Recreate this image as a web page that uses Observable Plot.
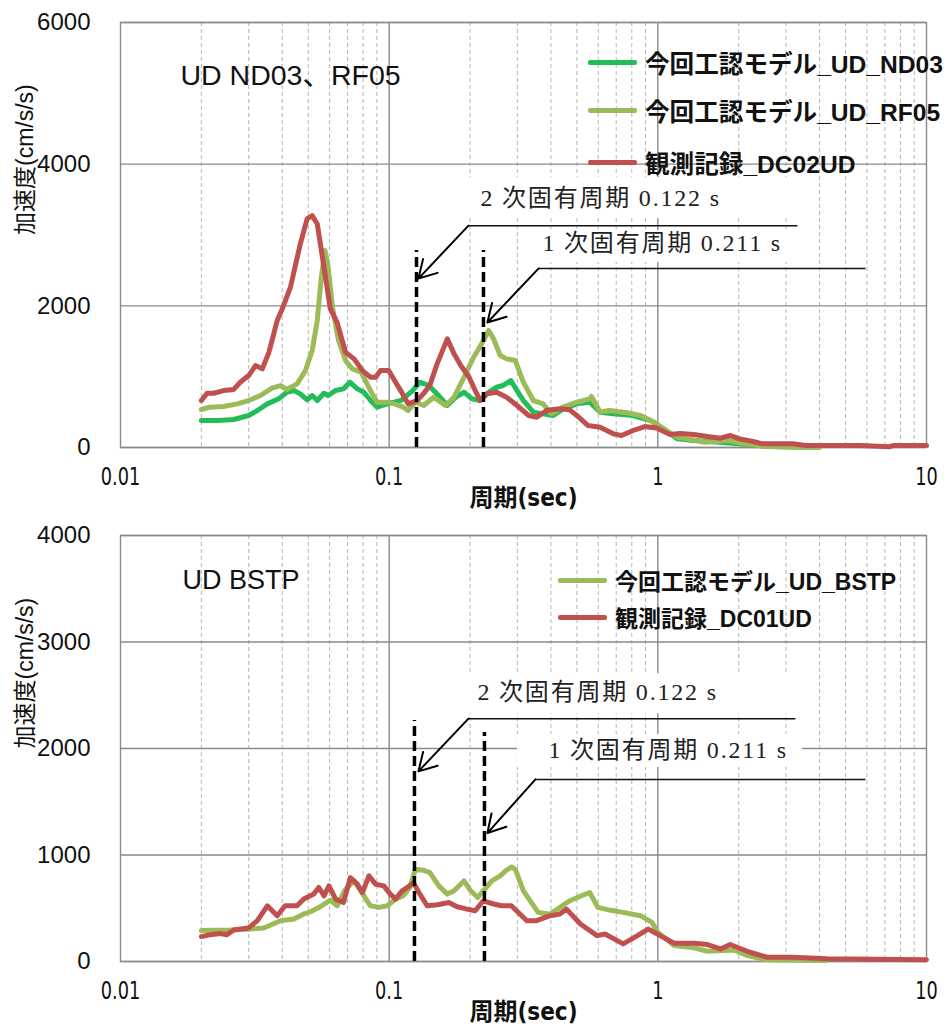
<!DOCTYPE html>
<html><head><meta charset="utf-8">
<script src="https://cdn.jsdelivr.net/npm/d3@7"></script>
<script src="https://cdn.jsdelivr.net/npm/@observablehq/plot@0.6"></script>
<style>
body{margin:0;background:#fff;}
#wrap{position:relative;width:944px;height:1025px;overflow:hidden;background:#fff;}
#wrap svg{display:block;}
.legend{position:absolute;left:0;top:0;font-family:"Liberation Sans","Noto Sans CJK JP",sans-serif;font-weight:bold;color:#111;}
.row{position:absolute;white-space:nowrap;display:flex;align-items:center;height:30px;}
.sw{display:inline-block;width:49px;height:5px;margin-right:8px;border-radius:2px;}
</style></head>
<body><div id="wrap"></div>
<script>
// ---------- axes / ticks ----------
const periodTicks = [0.01, 0.1, 1, 10];
const majorGrid = [0.1, 1];
const minorGrid = [0.02,0.03,0.04,0.05,0.06,0.07,0.08,0.09,0.2,0.3,0.4,0.5,0.6,0.7,0.8,0.9,2,3,4,5,6,7,8,9];
const yTicksTop = [0, 2000, 4000, 6000];
const yTicksBottom = [0, 1000, 2000, 3000, 4000];

// ---------- top chart series ----------
const nd03T = [0.02,0.0229,0.0264,0.03,0.0323,0.0352,0.0388,0.0416,0.0442,0.0467,0.0495,0.0517,0.054,0.0572,0.0593,0.0631,0.0676,0.0714,0.0762,0.0805,0.0864,0.0902,0.0983,0.1105,0.1223,0.13,0.1403,0.1508,0.1646,0.177,0.19,0.2035,0.2181,0.2345,0.2512,0.265,0.2836,0.2993,0.316,0.344,0.374,0.408,0.444,0.499,0.558,0.61,0.683,0.809,0.94,1.05,1.18,1.36,1.6,1.9,2.3,2.8,3.5,4.0];
const nd03V = [381,381,395,452,522,616,687,780,804,757,672,734,663,766,734,804,828,921,828,780,639,569,616,663,804,922,875,757,593,710,780,687,663,780,851,875,945,804,663,499,475,452,546,616,640,499,475,452,381,263,122,99,80,60,30,10,5,3];

const rf05T = [0.02,0.0215,0.0242,0.0272,0.03,0.0332,0.0366,0.0394,0.0416,0.0454,0.0488,0.0517,0.054,0.0559,0.0577,0.0593,0.0615,0.0648,0.0688,0.0729,0.0786,0.0852,0.0902,0.1003,0.1128,0.1176,0.1252,0.1344,0.1465,0.162,0.1744,0.19,0.2063,0.221,0.2345,0.2447,0.2591,0.2735,0.295,0.316,0.344,0.374,0.402,0.444,0.499,0.558,0.566,0.61,0.66,0.77,0.862,0.97,1.05,1.18,1.36,1.49,1.83,2.1,2.5,3.0,4.0];
const rf05V = [536,569,578,616,663,734,837,875,819,899,1086,1369,1792,2403,2780,2544,1980,1510,1228,1110,1063,804,639,639,569,522,639,593,710,593,710,992,1274,1463,1651,1534,1298,1251,1228,921,663,616,475,569,639,687,720,500,522,490,452,357,263,145,108,75,99,52,15,10,5];

const dc02T = [0.02,0.021,0.0222,0.0242,0.0264,0.0279,0.03,0.0318,0.0337,0.0357,0.0383,0.04,0.0429,0.0467,0.0495,0.0517,0.054,0.0572,0.0604,0.064,0.0688,0.074,0.0795,0.0852,0.0891,0.0927,0.0996,0.1057,0.1105,0.1176,0.1271,0.1342,0.1418,0.1508,0.1646,0.1744,0.1847,0.1984,0.2091,0.2181,0.2308,0.2512,0.2735,0.2993,0.33,0.354,0.385,0.432,0.47,0.499,0.55,0.61,0.683,0.733,0.809,0.895,0.99,1.11,1.21,1.36,1.53,1.71,1.86,2.02,2.26,2.46,3.17,3.56,4.25,5.66,7.3,7.5,10];
const dc02V = [663,766,766,804,820,921,1016,1157,1110,1345,1792,1957,2262,2874,3227,3274,3156,2544,1957,1768,1345,1251,1086,992,992,1086,1086,921,800,616,663,760,880,1181,1534,1322,1157,992,804,663,757,780,710,593,452,428,522,546,532,452,310,287,193,169,240,296,275,183,197,183,155,132,169,122,85,52,52,28,28,28,12,28,28];

// ---------- bottom chart series ----------
const bstpT = [0.02,0.0257,0.0305,0.0341,0.0394,0.0442,0.0481,0.0509,0.0554,0.0604,0.064,0.0688,0.074,0.0783,0.0852,0.0916,0.0984,0.1057,0.1128,0.1194,0.1252,0.1344,0.1418,0.1531,0.1646,0.1744,0.19,0.201,0.2136,0.224,0.241,0.2591,0.2706,0.2853,0.295,0.316,0.3585,0.3976,0.432,0.47,0.52,0.558,0.598,0.66,0.743,0.862,0.95,1.0,1.15,1.36,1.53,1.76,1.92,2.15,2.55,4.25];
const bstpV = [290,296,305,315,383,399,445,467,514,576,523,679,757,664,523,508,523,586,617,695,866,857,835,710,633,664,757,664,601,664,757,804,850,888,866,664,461,445,508,570,617,648,508,483,461,430,367,274,150,128,96,103,109,56,16,9];

const dc01T = [0.02,0.0216,0.0235,0.0249,0.0264,0.03,0.0323,0.0352,0.0383,0.041,0.0454,0.0481,0.0524,0.0547,0.0572,0.0597,0.0632,0.0676,0.0717,0.0762,0.0795,0.0841,0.089,0.0955,0.101,0.1057,0.1117,0.1169,0.1231,0.129,0.1386,0.1513,0.1668,0.179,0.195,0.2091,0.224,0.2447,0.262,0.285,0.3255,0.354,0.3976,0.432,0.457,0.515,0.594,0.636,0.743,0.84,0.92,1.02,1.15,1.36,1.53,1.71,1.86,1.97,2.2,2.55,3.17,4.25,10];
const dc01V = [234,252,262,252,296,315,383,523,430,523,523,586,633,695,617,710,586,554,788,726,648,804,726,710,633,586,664,695,741,648,523,533,554,514,492,477,570,540,523,523,383,383,430,445,492,352,243,258,165,243,305,243,171,171,159,118,159,134,87,40,40,25,16];

// ---------- labels ----------
const xLabel = "周期(sec)";
const yLabel = "加速度(cm/s/s)";
const topTitle = "UD ND03、RF05";
const bottomTitle = "UD BSTP";
const topNames = ["今回工認モデル_UD_ND03", "今回工認モデル_UD_RF05", "観測記録_DC02UD"];
const bottomNames = ["今回工認モデル_UD_BSTP", "観測記録_DC01UD"];
const noteTexts = ["2 次固有周期 0.122 s", "1 次固有周期 0.211 s"];

// ---------- annotations (data units: period, acceleration) ----------
const topModes = [{T:0.1264, top:2780}, {T:0.2244, top:2780}];
const topLeaders = [{x1:0.1973, x2:3.307, y:3132}, {x1:0.3594, x2:5.925, y:2526}];
const topArrows = [{x1:0.1973, y1:3132, x2:0.1285, y2:2385}, {x1:0.3594, y1:2526, x2:0.2321, y2:1764}];
const topNotes = [{T:0.2187, y:3513, text:noteTexts[0]}, {T:0.372, y:2878, text:noteTexts[1]}];
const topBoxes = [{x1:0.194, x2:3.395, y1:3231, y2:3810}, {x1:0.3356, x2:3.542, y1:2610, y2:3062}];

const botModes = [{T:0.1242, top:2263}, {T:0.2263, top:2150}];
const botLeaders = [{x1:0.1973, x2:3.251, y:2280}, {x1:0.3503, x2:5.925, y:1710}];
const botArrows = [{x1:0.1973, y1:2280, x2:0.1285, y2:1785}, {x1:0.3503, y1:1710, x2:0.2321, y2:1206}];
const botNotes = [{T:0.2131, y:2523, text:noteTexts[0]}, {T:0.3916, y:1981, text:noteTexts[1]}];
const botBoxes = [{x1:0.194, x2:3.395, y1:2327, y2:2701}, {x1:0.3003, x2:3.453, y1:1822, y2:2131}];

// ---------- colours ----------
const cGreen = "#22bd58", cOlive = "#9bbb59", cRed = "#c0504d";

const zip = (T, V) => T.map((t, i) => ({T: t, v: V[i]}));
const sansFont = "Liberation Sans, Arial, Noto Sans CJK JP, sans-serif";
const narrowFont = "Liberation Sans Narrow, DejaVu Sans Condensed, Liberation Sans, Noto Sans CJK JP, sans-serif";
const serifFont = "Liberation Serif, DejaVu Serif, Noto Sans CJK JP, serif";

function chart(o) {
  const svg = Plot.plot({
    width: 944, height: o.height,
    marginTop: o.mt, marginBottom: o.mb, marginLeft: 120, marginRight: 18,
    style: {background: "white", overflow: "visible"},
    x: {type: "log", domain: [0.01, 10]},
    y: {domain: o.yDomain},
    marks: [
      Plot.ruleX(minorGrid, {stroke: "#b5b5b5", strokeWidth: 1, strokeDasharray: "4,3"}),
      Plot.ruleX(majorGrid, {stroke: "#8a8a8a", strokeWidth: 1.4}),
      Plot.ruleY(o.yTicks, {stroke: "#8a8a8a", strokeWidth: 1.4}),
      Plot.frame({stroke: "#8a8a8a", strokeWidth: 1.4}),
      Plot.rect(o.boxes, {x1: "x1", x2: "x2", y1: "y1", y2: "y2", fill: "white"}),
      ...o.series.map(s => Plot.line(zip(s.T, s.V), {x: "T", y: "v", stroke: s.color, strokeWidth: 5, strokeLinejoin: "round", strokeLinecap: "round"})),
      Plot.ruleX(o.modes, {x: "T", y1: 0, y2: "top", stroke: "#000", strokeWidth: 3.5, strokeDasharray: "10,5"}),
      Plot.link(o.leaders, {x1: "x1", x2: "x2", y1: "y", y2: "y", stroke: "#111", strokeWidth: 1.5}),
      Plot.arrow(o.arrows, {x1: "x1", y1: "y1", x2: "x2", y2: "y2", stroke: "#000", strokeWidth: 2, headLength: 15}),
      Plot.text(o.notes, {x: "T", y: "y", text: "text", textAnchor: "start", lineAnchor: "middle", fontSize: 24, fontFamily: serifFont, fill: "#222"}),
      Plot.text([o.title], {frameAnchor: "top-left", dx: o.titleDx, dy: o.titleDy, textAnchor: "start", lineAnchor: "middle", fontSize: o.titleSize, fontFamily: sansFont, fill: "#111"}),
      Plot.axisX({ticks: periodTicks, tickSize: 0, tickPadding: 20, tickFormat: d => String(d), label: null, fontSize: 24, fontFamily: narrowFont, fill: "#111"}),
      Plot.axisY({ticks: o.yTicks, tickSize: 0, tickPadding: 30, tickFormat: d => String(d), label: null, fontSize: 24, fontFamily: sansFont, fill: "#111"}),
      Plot.text([xLabel], {frameAnchor: "bottom", dy: 51, lineAnchor: "middle", fontSize: 24, fontWeight: "bold", fontFamily: narrowFont, fill: "#111"}),
      Plot.text([yLabel], {frameAnchor: "left", dx: -95, rotate: -90, lineAnchor: "middle", fontSize: 23, fontFamily: sansFont, fill: "#111"})
    ]
  });
  return svg;
}

function restyle(svg) {
  // narrow the period tick labels, as in the reference
  d3.select(svg).selectAll('g[aria-label="x-axis tick label"] text').each(function () {
    const w = this.getComputedTextLength();
    this.setAttribute("textLength", w * 0.82);
    this.setAttribute("lengthAdjust", "spacingAndGlyphs");
  });
  // wider letter spacing on the natural-period notes
  d3.select(svg).selectAll("text").filter(function () {
    return noteTexts.includes(this.textContent);
  }).style("letter-spacing", "1.8px");
}

const wrap = document.getElementById("wrap");
const svgTop = chart({
  height: 512, mt: 22, mb: 65, yDomain: [0, 6000], yTicks: yTicksTop,
  series: [{T: nd03T, V: nd03V, color: cGreen}, {T: rf05T, V: rf05V, color: cOlive}, {T: dc02T, V: dc02V, color: cRed}],
  modes: topModes, leaders: topLeaders, arrows: topArrows, notes: topNotes, boxes: topBoxes,
  title: topTitle, titleDx: 60, titleDy: 53, titleSize: 28.5
});
const svgBot = chart({
  height: 513, mt: 23, mb: 64, yDomain: [0, 4000], yTicks: yTicksBottom,
  series: [{T: bstpT, V: bstpV, color: cOlive}, {T: dc01T, V: dc01V, color: cRed}],
  modes: botModes, leaders: botLeaders, arrows: botArrows, notes: botNotes, boxes: botBoxes,
  title: bottomTitle, titleDx: 62, titleDy: 45, titleSize: 27
});
wrap.appendChild(svgTop);
wrap.appendChild(svgBot);
restyle(svgTop);
restyle(svgBot);

// in-plot legends (HTML overlay)
function legend(items, swLeft, centers, size) {
  const lg = document.createElement("div");
  lg.className = "legend";
  lg.style.fontSize = size + "px";
  items.forEach((it, i) => {
    const r = document.createElement("div");
    r.className = "row";
    r.style.left = swLeft + "px";
    r.style.top = (centers[i] - 15) + "px";
    const sw = document.createElement("span");
    sw.className = "sw";
    sw.style.background = it.color;
    r.appendChild(sw);
    r.appendChild(document.createTextNode(it.name));
    lg.appendChild(r);
  });
  wrap.appendChild(lg);
}
legend([{name: topNames[0], color: cGreen}, {name: topNames[1], color: cOlive}, {name: topNames[2], color: cRed}], 588, [62, 110, 162], 24.6);
legend([{name: bottomNames[0], color: cOlive}, {name: bottomNames[1], color: cRed}], 558, [580, 617], 23);
</script></body></html>
